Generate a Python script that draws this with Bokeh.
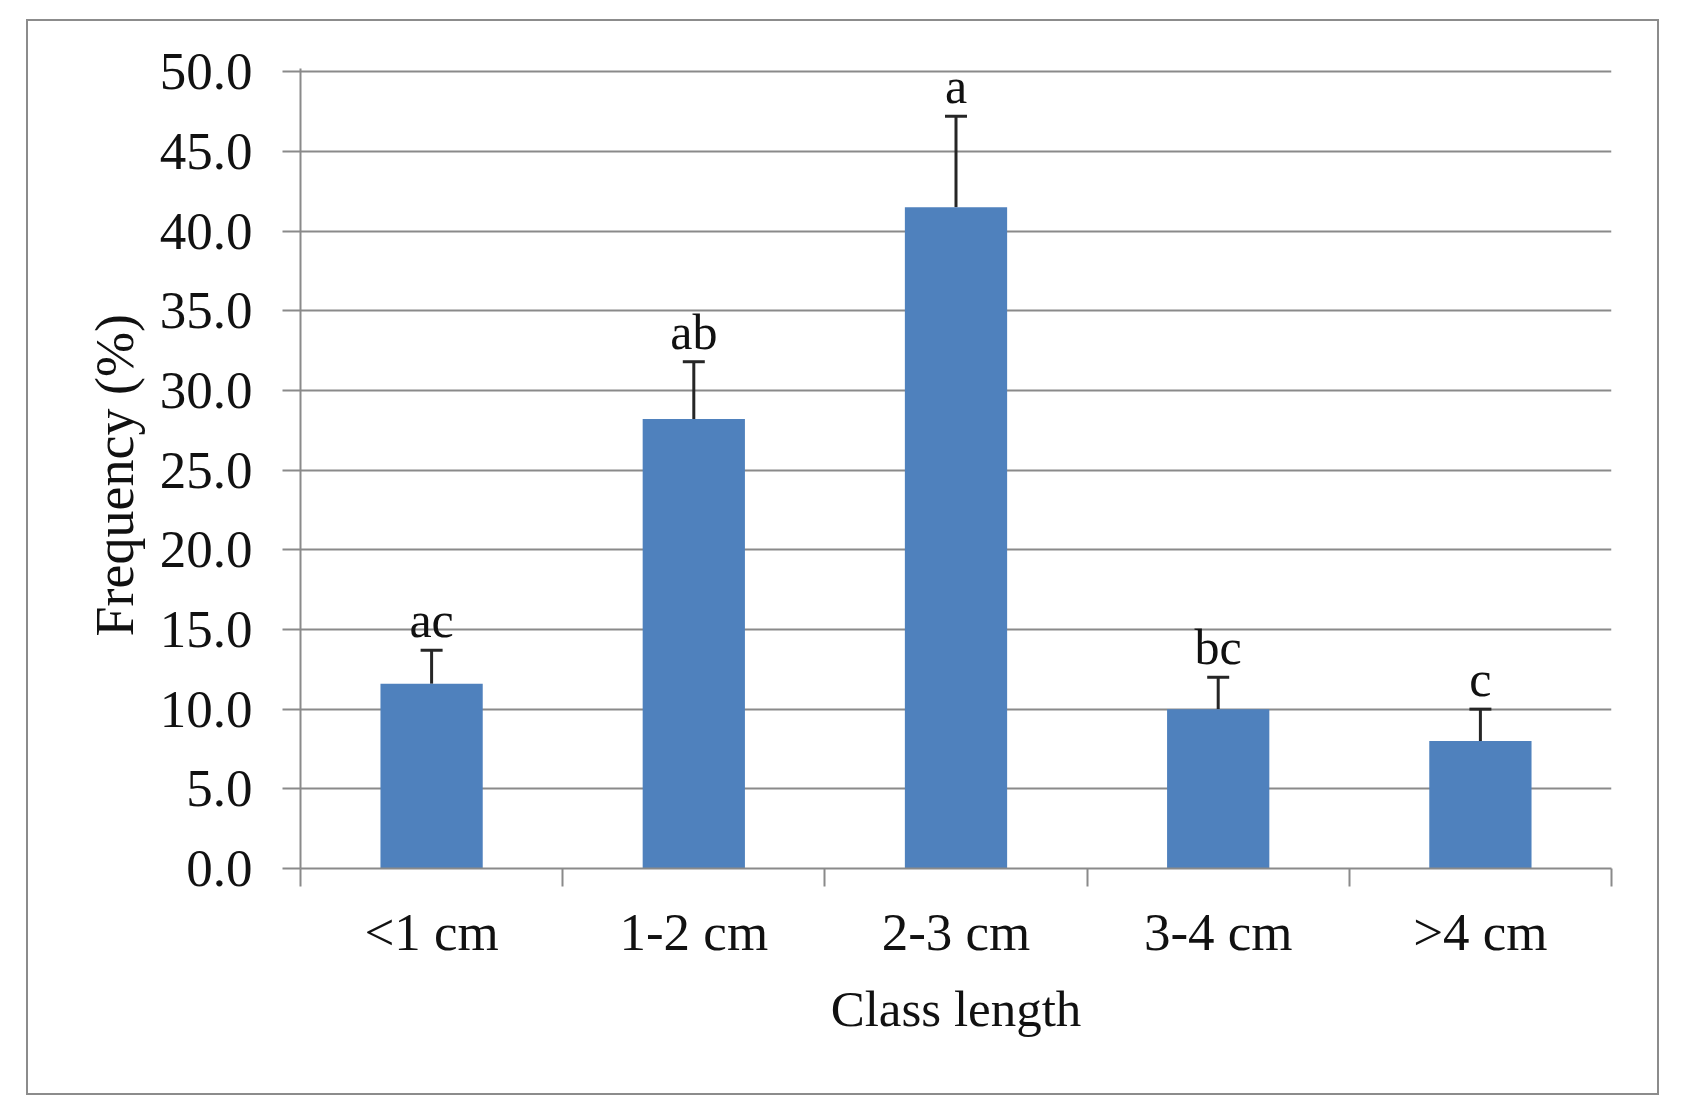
from bokeh.plotting import figure
from bokeh.models import (ColumnDataSource, Range1d, FixedTicker, PrintfTickFormatter,
                          Whisker, TeeHead)
from bokeh.embed import file_html
from bokeh.resources import INLINE
from bokeh.core.properties import value

# ---- data ----
categories = ["<1 cm", "1-2 cm", "2-3 cm", "3-4 cm", ">4 cm"]
frequency = [11.6, 28.2, 41.5, 10.0, 8.0]
std_error = [2.1, 3.6, 5.7, 2.0, 2.0]
letters = ["ac", "ab", "a", "bc", "c"]
y_ticks = [0, 5, 10, 15, 20, 25, 30, 35, 40, 45, 50]

FONT = "Liberation Serif"
GRAY = "#8a8a8a"
TXT = "#111111"

xpos = [i + 0.5 for i in range(len(categories))]
upper = [f + e for f, e in zip(frequency, std_error)]
src = ColumnDataSource(dict(x=xpos, cat=categories, freq=frequency, upper=upper, lab=letters))

W, H = 1633, 1076
p = figure(width=W, height=H, output_backend="svg", toolbar_location=None,
           x_range=Range1d(0, len(categories)), y_range=Range1d(0, 50.2),
           min_border_left=272, min_border_right=50, min_border_top=47, min_border_bottom=229,
           margin=(19, 0, 0, 26),
           styles={"border": "2px solid #8c8c8c"})
p.outline_line_color = None
p.background_fill_color = "white"
p.border_fill_color = "white"

p.vbar(x="x", top="freq", bottom=0, width=0.39, source=src,
       fill_color="#4F81BD", line_color=None)

wh = Whisker(base="x", lower="freq", upper="upper", source=src,
             line_color="#262626", line_width=3,
             upper_head=TeeHead(size=22, line_color="#262626", line_width=3),
             lower_head=None)
p.add_layout(wh)

p.text(x="x", y="upper", text="lab", source=src, text_font=value(FONT),
       text_font_size="50px", text_align="center", text_baseline="alphabetic",
       y_offset=-30, text_color=TXT)

# grid
p.xgrid.visible = False
p.ygrid.grid_line_color = GRAY
p.ygrid.grid_line_width = 2

# x axis
xa = p.xaxis[0]
xa.ticker = FixedTicker(ticks=xpos, minor_ticks=list(range(len(categories) + 1)))
xa.major_label_overrides = {x: c for x, c in zip(xpos, categories)}
xa.major_tick_out = 0
xa.major_tick_in = 0
xa.minor_tick_out = 18
xa.minor_tick_in = 0
xa.minor_tick_line_color = GRAY
xa.minor_tick_line_width = 2
xa.axis_line_color = GRAY
xa.axis_line_width = 2
xa.major_label_text_font = FONT
xa.major_label_text_font_size = "53px"
xa.major_label_text_color = TXT
xa.major_label_standoff = 16
xa.axis_label = "Class length"
xa.axis_label_text_font = FONT
xa.axis_label_text_font_size = "51px"
xa.axis_label_text_font_style = "normal"
xa.axis_label_text_color = TXT
xa.axis_label_standoff = 17

# y axis
ya = p.yaxis[0]
ya.ticker = FixedTicker(ticks=y_ticks, minor_ticks=[])
ya.formatter = PrintfTickFormatter(format="%.1f")
ya.major_tick_out = 18
ya.major_tick_in = 0
ya.major_tick_line_color = GRAY
ya.major_tick_line_width = 2
ya.axis_line_color = GRAY
ya.axis_line_width = 2
ya.major_label_text_font = FONT
ya.major_label_text_font_size = "53px"
ya.major_label_text_color = TXT
ya.major_label_standoff = 30
ya.axis_label = "Frequency  (%)"
ya.axis_label_text_font = FONT
ya.axis_label_text_font_size = "54px"
ya.axis_label_text_font_style = "normal"
ya.axis_label_text_color = TXT
ya.axis_label_standoff = 12

open("out.html", "w").write(file_html(p, INLINE))
